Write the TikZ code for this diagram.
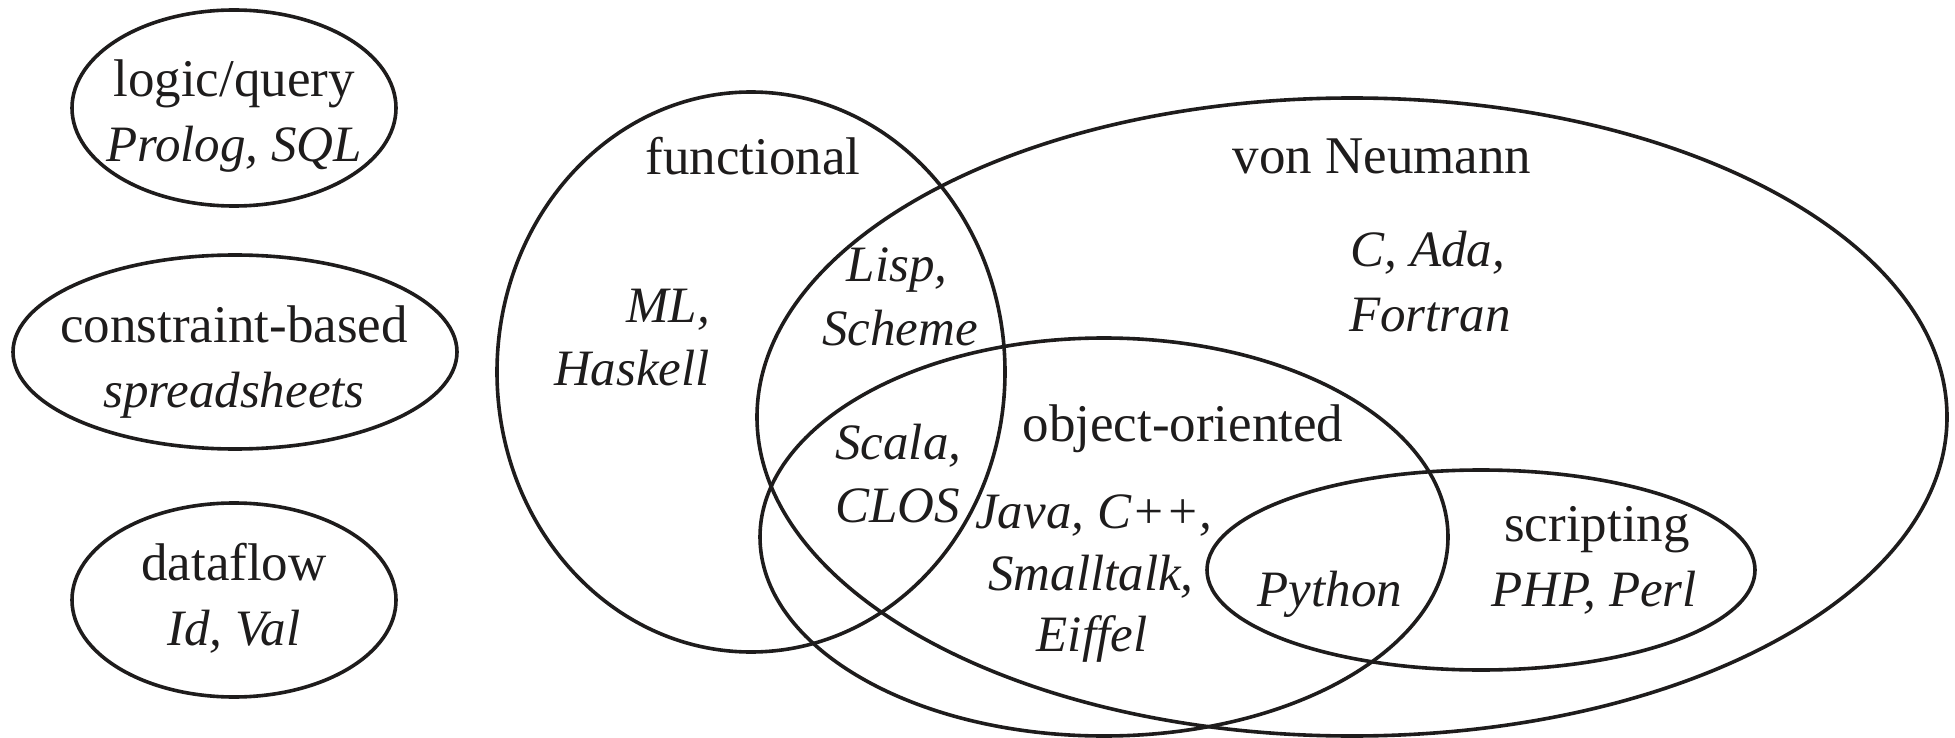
\documentclass[tikz,border=0pt]{standalone}
\usepackage{fontspec}
\setmainfont{Liberation Serif}
\definecolor{ink}{RGB}{30,28,28}
\begin{document}
\begin{tikzpicture}[x=1pt,y=-1pt,
  venn/.style={line width=3.6pt, draw=ink},
  lbl/.style={font=\fontsize{53}{66}\selectfont, text=ink, inner sep=0pt, anchor=base},
  lang/.style={font=\fontsize{51}{66}\selectfont\itshape, text=ink, inner sep=0pt, anchor=base}]
\useasboundingbox (0,0) rectangle (1955,738);
% left ellipses
\draw[venn] (234,108) ellipse [x radius=162pt, y radius=98pt];
\draw[venn] (235,352) ellipse [x radius=222pt, y radius=97pt];
\draw[venn] (234,600) ellipse [x radius=162pt, y radius=97pt];
% big Venn
\draw[venn] (751,372) ellipse [x radius=254pt, y radius=280pt];
\draw[venn] (1352,417) ellipse [x radius=595pt, y radius=319pt];
\draw[venn] (1104,537) ellipse [x radius=344pt, y radius=199pt];
\draw[venn] (1481,570) ellipse [x radius=274pt, y radius=100pt];
% texts
\node[lbl] (lq) at (234,97) {logic/query};
\node[lang] (lqx) at (234,162) {Prolog, SQL};
\node[lbl] (cb) at (234,342) {constraint-based};
\node[lang] (cbx) at (234,407) {spreadsheets};
\node[lbl] (df) at (234,580) {dataflow};
\node[lang] (dfx) at (234,645) {Id, Val};
\node[lbl] (fn) at (753,175) {functional};
\node[lang, anchor=base east] (ml) at (710,322) {ML,};
\node[lang, anchor=base east] (hs) at (710,385) {Haskell};
\node[lang] (lisp) at (897,282) {Lisp,};
\node[lang] (scheme) at (900,345) {Scheme};
\node[lbl] (vn) at (1382,174) {von Neumann};
\node[lang] (cada) at (1428,267) {C, Ada,};
\node[lang] (fortran) at (1430,331) {Fortran};
\node[lbl] (oo) at (1183,441) {object-oriented};
\node[lang, anchor=base west] (scala) at (835,459) {Scala,};
\node[lang, anchor=base west] (clos) at (835,522) {CLOS};
\node[lang] (java) at (1094,528) {Java, C++,};
\node[lang] (small) at (1091,590) {Smalltalk,};
\node[lang] (eiffel) at (1092,651) {Eiffel};
\node[lang] (py) at (1330,606) {Python};
\node[lbl] (sc) at (1597,541) {scripting};
\node[lang] (scx) at (1594,606) {PHP, Perl};
\end{tikzpicture}
\end{document}
